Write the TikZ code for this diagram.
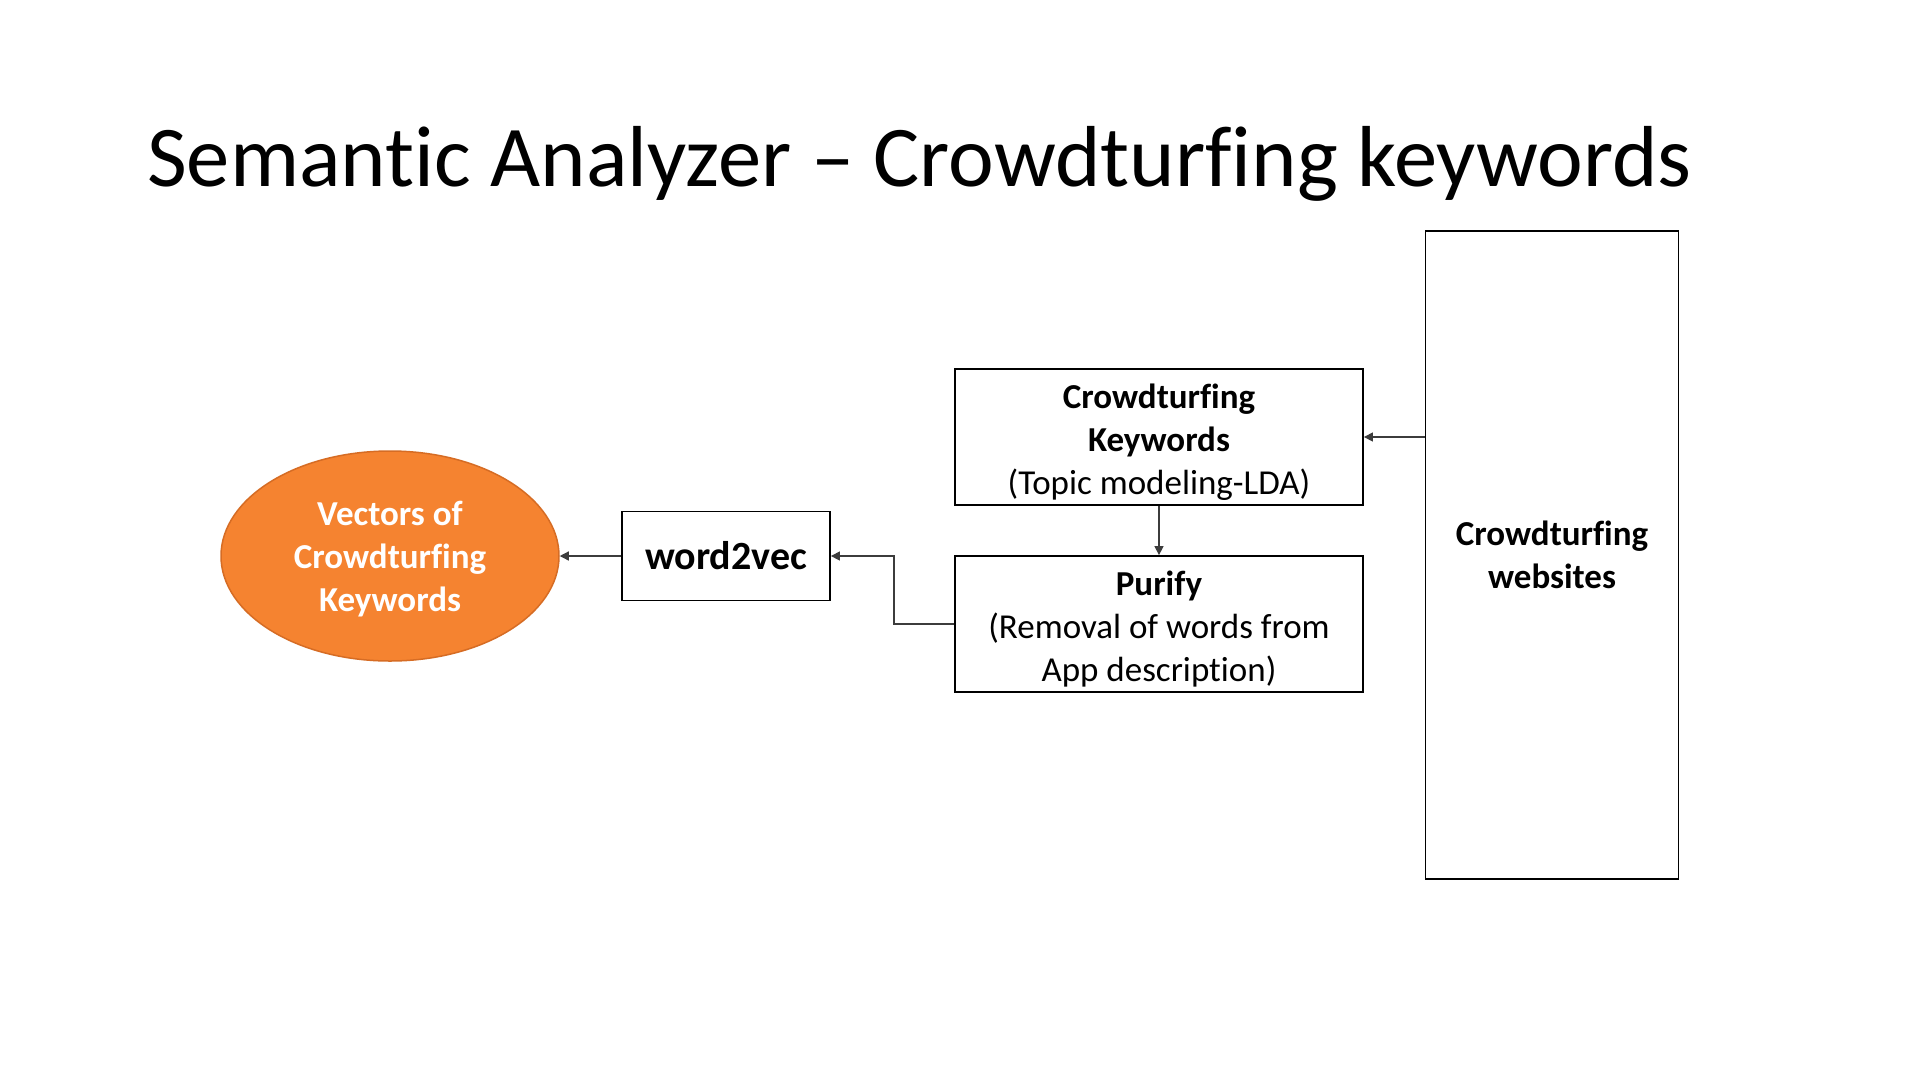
\documentclass[tikz,border=0pt]{standalone}
\usepackage{fontspec}
\setmainfont{Carlito}[Ligatures={NoCommon}]
\usetikzlibrary{arrows.meta,shapes.geometric}
\definecolor{fillorange}{RGB}{245,131,48}
\definecolor{edgeorange}{RGB}{214,108,36}
\definecolor{linkgray}{RGB}{60,60,60}
\tikzset{
  boxnode/.style={draw=black,line width=1.8pt,fill=white,inner sep=0pt,align=center,
    font=\fontsize{35}{43}\selectfont},
  link/.style={draw=linkgray,line width=1.3pt,-{Triangle[length=9pt,width=9pt]}},
}
\begin{document}
\begin{tikzpicture}[x=1pt,y=-1pt]
\path[use as bounding box,fill=white] (0,0) rectangle (1920,1080);
\node[anchor=base west,inner sep=0pt,font=\fontsize{86.6}{100}\selectfont] (title) at (147,186)
  {Semantic Analyzer -- Crowdturfing keywords};
\node[boxnode,minimum width=253pt,minimum height=648pt] (web) at (1552,555)
  {\textbf{Crowdturfing}\\\textbf{websites}};
\node[boxnode,minimum width=408pt,minimum height=136pt] (kw) at (1159,437)
  {\rule{0pt}{34pt}\textbf{Crowdturfing}\\\textbf{Keywords}\\(Topic modeling-LDA)};
\node[boxnode,minimum width=408pt,minimum height=136pt] (pur) at (1159,624)
  {\rule{0pt}{34pt}\textbf{Purify}\\(Removal of words from\\App description)};
\node[boxnode,minimum width=208pt,minimum height=89pt,font=\fontsize{40}{48}\selectfont\bfseries] (w2v) at (726,556)
  {word2vec};
\node[ellipse,draw=edgeorange,line width=1.5pt,fill=fillorange,minimum width=338pt,minimum height=210pt,
  inner sep=0pt,align=center,text=white,font=\fontsize{35}{43}\selectfont\bfseries] (vec) at (390,556)
  {\rule{0pt}{31pt}Vectors of\\Crowdturfing\\Keywords};
\draw[link] (web.west |- kw.east) -- (kw.east);
\draw[link] (kw.south) -- (pur.north);
\coordinate (bend) at (894,624);
\draw[link] (pur.west) -- (bend) |- (w2v.east);
\draw[link] (w2v.west) -- (vec.east);
\end{tikzpicture}
\end{document}
